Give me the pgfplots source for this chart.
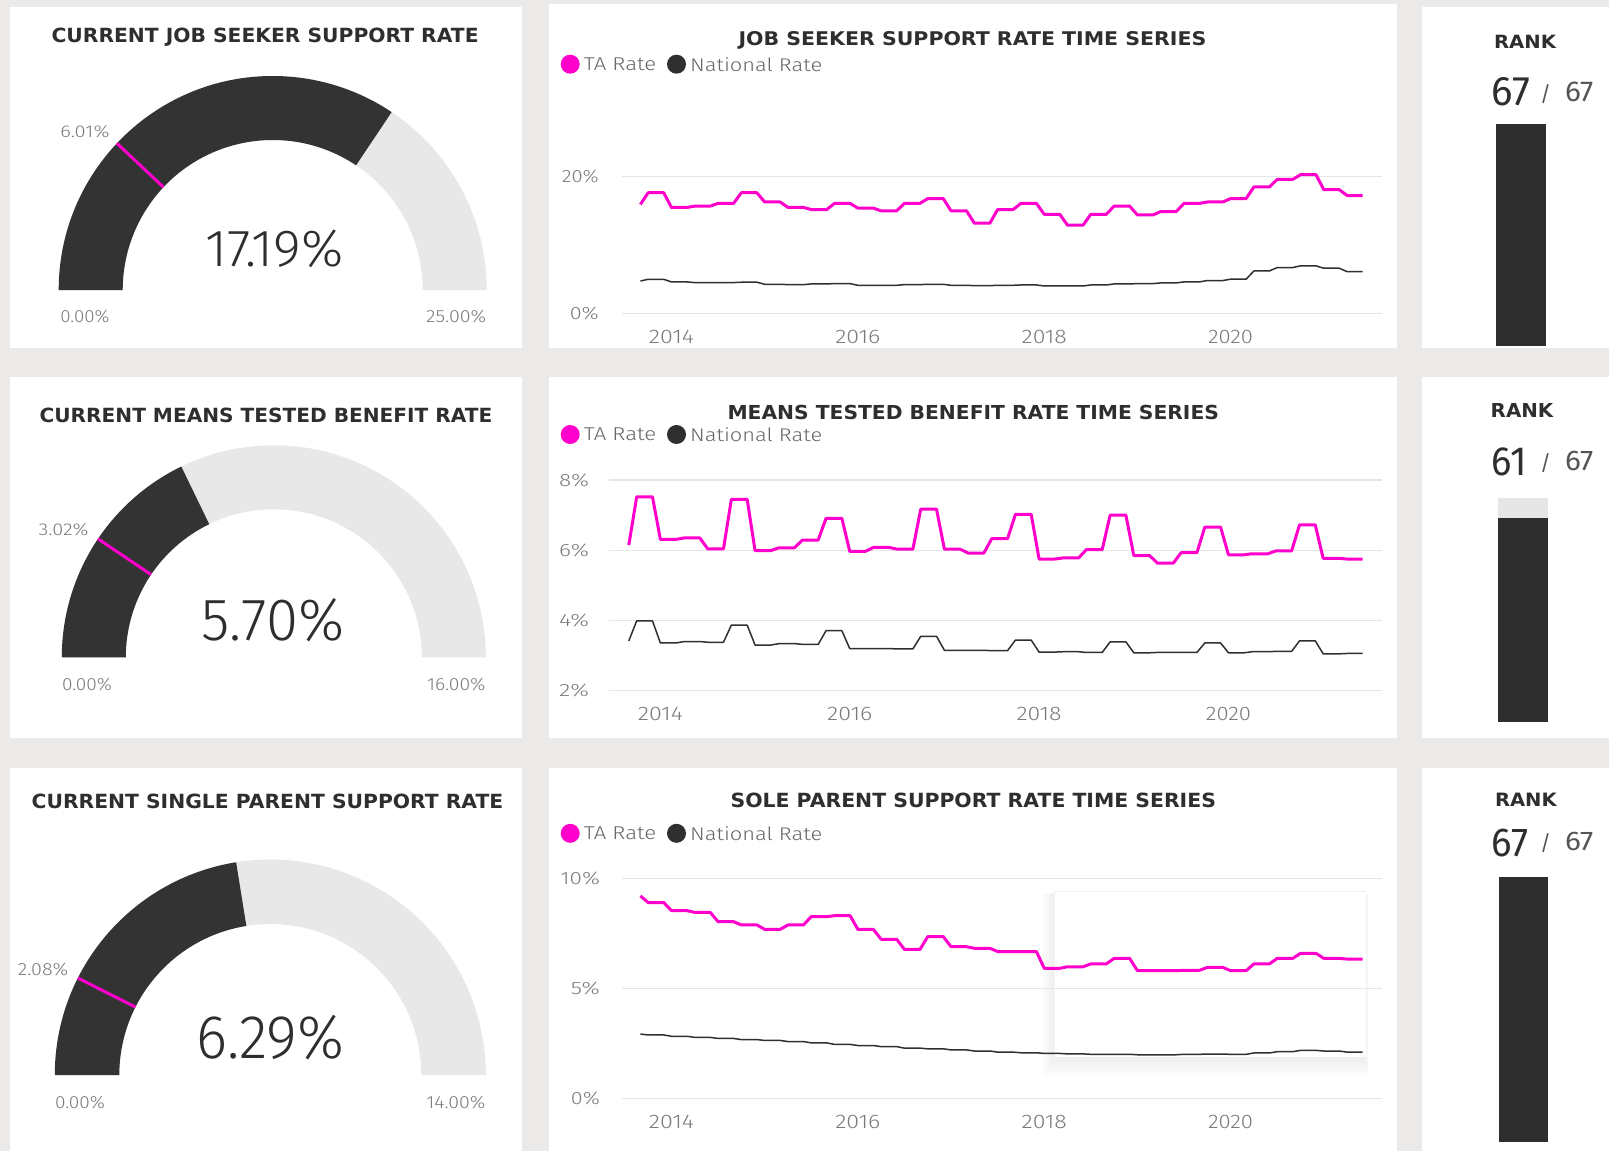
\documentclass[border=0pt]{standalone}
\usepackage{pgfplots}
\pgfplotsset{compat=1.18}
\usepackage{pgfplotstable}
\usepackage{graphicx}
\usepackage{fontspec}
\setmainfont{DejaVu Sans}
\newfontfamily\dfont{Fira Sans Light}
\newfontfamily\rfont{Fira Sans}
\definecolor{bgc}{HTML}{EBEAE9}
\definecolor{gdark}{HTML}{333333}
\definecolor{glight}{HTML}{E8E8E8}
\definecolor{mag}{HTML}{FF00CC}
\definecolor{natc}{HTML}{2F2F2F}
\definecolor{ttl}{HTML}{2E2E2E}
\definecolor{lbl}{HTML}{7A7A7A}
\definecolor{tkc}{HTML}{7A7A7A}
\definecolor{lgt}{HTML}{666666}
\definecolor{gridc}{HTML}{E6E6E6}
\definecolor{sub}{HTML}{555555}
\definecolor{rdark}{HTML}{2E2E2E}
\definecolor{rlight}{HTML}{E6E6E6}
\newdimen\pxu \pxu=0.5pt
\newcommand\fit[3]{\resizebox{#1\pxu}{#2\pxu}{#3}}
\newcommand\rkslash{{\rfont\fontsize{10.5pt}{11pt}\selectfont /}}

% ---------- data: month index 0 = Sep 2013, 4 = Jan 2014 ----------
\pgfplotstableread[row sep=\\]{
m ta nat\\
0 15.95 4.73\\
1 17.66 4.98\\ 2 17.66 4.98\\ 3 17.66 4.98\\
4 15.50 4.59\\ 5 15.50 4.59\\ 6 15.50 4.59\\
7 15.70 4.50\\ 8 15.70 4.50\\ 9 15.70 4.50\\
10 16.10 4.50\\ 11 16.10 4.50\\ 12 16.10 4.50\\
13 17.66 4.55\\ 14 17.66 4.55\\ 15 17.66 4.55\\
16 16.30 4.25\\ 17 16.30 4.25\\ 18 16.30 4.25\\
19 15.50 4.20\\ 20 15.50 4.20\\ 21 15.50 4.20\\
22 15.20 4.30\\ 23 15.20 4.30\\ 24 15.20 4.30\\
25 16.10 4.35\\ 26 16.10 4.35\\ 27 16.10 4.35\\
28 15.40 4.10\\ 29 15.40 4.10\\ 30 15.40 4.10\\
31 15.00 4.10\\ 32 15.00 4.10\\ 33 15.00 4.10\\
34 16.10 4.20\\ 35 16.10 4.20\\ 36 16.10 4.20\\
37 16.80 4.25\\ 38 16.80 4.25\\ 39 16.80 4.25\\
40 15.00 4.10\\ 41 15.00 4.10\\ 42 15.00 4.10\\
43 13.20 4.05\\ 44 13.20 4.05\\ 45 13.20 4.05\\
46 15.20 4.10\\ 47 15.20 4.10\\ 48 15.20 4.10\\
49 16.10 4.15\\ 50 16.10 4.15\\ 51 16.10 4.15\\
52 14.50 4.00\\ 53 14.50 4.00\\ 54 14.50 4.00\\
55 12.90 4.00\\ 56 12.90 4.00\\ 57 12.90 4.00\\
58 14.50 4.15\\ 59 14.50 4.15\\ 60 14.50 4.15\\
61 15.70 4.30\\ 62 15.70 4.30\\ 63 15.70 4.30\\
64 14.40 4.35\\ 65 14.40 4.35\\ 66 14.40 4.35\\
67 14.90 4.45\\ 68 14.90 4.45\\ 69 14.90 4.45\\
70 16.10 4.60\\ 71 16.10 4.60\\ 72 16.10 4.60\\
73 16.30 4.80\\ 74 16.30 4.80\\ 75 16.30 4.80\\
76 16.80 5.00\\ 77 16.80 5.00\\ 78 16.80 5.00\\
79 18.50 6.20\\ 80 18.50 6.20\\ 81 18.50 6.20\\
82 19.60 6.70\\ 83 19.60 6.70\\ 84 19.60 6.70\\
85 20.30 6.95\\ 86 20.30 6.95\\ 87 20.30 6.95\\
88 18.10 6.60\\ 89 18.10 6.60\\ 90 18.10 6.60\\
91 17.25 6.10\\ 92 17.25 6.10\\ 93 17.25 6.10\\
}\tabJS

\pgfplotstableread[row sep=\\]{
m ta nat\\
0 6.15 3.42\\
1 7.52 3.99\\ 2 7.52 3.99\\ 3 7.52 3.99\\
4 6.31 3.36\\ 5 6.31 3.36\\ 6 6.31 3.36\\
7 6.35 3.40\\ 8 6.35 3.40\\ 9 6.35 3.40\\
10 6.04 3.38\\ 11 6.04 3.38\\ 12 6.04 3.38\\
13 7.45 3.87\\ 14 7.45 3.87\\ 15 7.45 3.87\\
16 5.99 3.30\\ 17 5.99 3.30\\ 18 5.99 3.30\\
19 6.07 3.34\\ 20 6.07 3.34\\ 21 6.07 3.34\\
22 6.29 3.32\\ 23 6.29 3.32\\ 24 6.29 3.32\\
25 6.91 3.71\\ 26 6.91 3.71\\ 27 6.91 3.71\\
28 5.97 3.20\\ 29 5.97 3.20\\ 30 5.97 3.20\\
31 6.08 3.20\\ 32 6.08 3.20\\ 33 6.08 3.20\\
34 6.03 3.19\\ 35 6.03 3.19\\ 36 6.03 3.19\\
37 7.17 3.55\\ 38 7.17 3.55\\ 39 7.17 3.55\\
40 6.03 3.15\\ 41 6.03 3.15\\ 42 6.03 3.15\\
43 5.92 3.15\\ 44 5.92 3.15\\ 45 5.92 3.15\\
46 6.33 3.14\\ 47 6.33 3.14\\ 48 6.33 3.14\\
49 7.02 3.44\\ 50 7.02 3.44\\ 51 7.02 3.44\\
52 5.75 3.10\\ 53 5.75 3.10\\ 54 5.75 3.10\\
55 5.78 3.11\\ 56 5.78 3.11\\ 57 5.78 3.11\\
58 6.02 3.09\\ 59 6.02 3.09\\ 60 6.02 3.09\\
61 7.00 3.39\\ 62 7.00 3.39\\ 63 7.00 3.39\\
64 5.85 3.08\\ 65 5.85 3.08\\ 66 5.85 3.08\\
67 5.63 3.09\\ 68 5.63 3.09\\ 69 5.63 3.09\\
70 5.93 3.09\\ 71 5.93 3.09\\ 72 5.93 3.09\\
73 6.66 3.36\\ 74 6.66 3.36\\ 75 6.66 3.36\\
76 5.87 3.08\\ 77 5.87 3.08\\ 78 5.87 3.08\\
79 5.90 3.11\\ 80 5.90 3.11\\ 81 5.90 3.11\\
82 5.98 3.12\\ 83 5.98 3.12\\ 84 5.98 3.12\\
85 6.72 3.42\\ 86 6.72 3.42\\ 87 6.72 3.42\\
88 5.77 3.05\\ 89 5.77 3.05\\ 90 5.77 3.05\\
91 5.75 3.06\\ 92 5.75 3.06\\ 93 5.75 3.06\\
}\tabMT

\pgfplotstableread[row sep=\\]{
m ta nat\\
0 9.20 2.92\\
1 8.90 2.88\\ 2 8.90 2.88\\ 3 8.90 2.88\\
4 8.53 2.82\\ 5 8.53 2.82\\ 6 8.53 2.82\\
7 8.45 2.77\\ 8 8.45 2.77\\ 9 8.45 2.77\\
10 8.03 2.72\\ 11 8.03 2.72\\ 12 8.03 2.72\\
13 7.88 2.67\\ 14 7.88 2.67\\ 15 7.88 2.67\\
16 7.68 2.63\\ 17 7.68 2.63\\ 18 7.68 2.63\\
19 7.88 2.58\\ 20 7.88 2.58\\ 21 7.88 2.58\\
22 8.26 2.52\\ 23 8.26 2.52\\ 24 8.26 2.52\\
25 8.30 2.45\\ 26 8.30 2.45\\ 27 8.30 2.45\\
28 7.68 2.40\\ 29 7.68 2.40\\ 30 7.68 2.40\\
31 7.23 2.35\\ 32 7.23 2.35\\ 33 7.23 2.35\\
34 6.77 2.28\\ 35 6.77 2.28\\ 36 6.77 2.28\\
37 7.35 2.25\\ 38 7.35 2.25\\ 39 7.35 2.25\\
40 6.89 2.20\\ 41 6.89 2.20\\ 42 6.89 2.20\\
43 6.82 2.15\\ 44 6.82 2.15\\ 45 6.82 2.15\\
46 6.67 2.10\\ 47 6.67 2.10\\ 48 6.67 2.10\\
49 6.67 2.07\\ 50 6.67 2.07\\ 51 6.67 2.07\\
52 5.91 2.04\\ 53 5.91 2.04\\ 54 5.91 2.04\\
55 5.98 2.02\\ 56 5.98 2.02\\ 57 5.98 2.02\\
58 6.11 2.00\\ 59 6.11 2.00\\ 60 6.11 2.00\\
61 6.36 2.00\\ 62 6.36 2.00\\ 63 6.36 2.00\\
64 5.80 1.98\\ 65 5.80 1.98\\ 66 5.80 1.98\\
67 5.80 1.98\\ 68 5.80 1.98\\ 69 5.80 1.98\\
70 5.82 2.00\\ 71 5.82 2.00\\ 72 5.82 2.00\\
73 5.95 2.01\\ 74 5.95 2.01\\ 75 5.95 2.01\\
76 5.80 2.00\\ 77 5.80 2.00\\ 78 5.80 2.00\\
79 6.11 2.06\\ 80 6.11 2.06\\ 81 6.11 2.06\\
82 6.36 2.12\\ 83 6.36 2.12\\ 84 6.36 2.12\\
85 6.59 2.18\\ 86 6.59 2.18\\ 87 6.59 2.18\\
88 6.36 2.15\\ 89 6.36 2.15\\ 90 6.36 2.15\\
91 6.33 2.10\\ 92 6.33 2.10\\ 93 6.33 2.10\\
}\tabSP

% gauge: #1 anchor coord, #2 outer R (px), #3 inner r (px), #4 value, #5 max, #6 target
\newcommand\gauge[6]{%
\pgfmathsetmacro\gV{180-180*#4/#5}%
\pgfmathsetmacro\gT{180-180*#6/#5}%
\pgfmathsetmacro\gRo{#2/2}%
\pgfmathsetmacro\gRi{#3/2}%
\begin{axis}[at={(#1)}, anchor=south west, x=0.5pt, y=0.5pt, hide axis,
  xmin=-220, xmax=220, ymin=0, ymax=220, clip=false]
\fill[glight] (axis cs:-#2,0) arc[start angle=180,end angle=0,radius=\gRo pt]
   -- (axis cs:#3,0) arc[start angle=0,end angle=180,radius=\gRi pt] -- cycle;
\fill[gdark] (axis cs:-#2,0) arc[start angle=180,end angle=\gV,radius=\gRo pt]
   -- (axis cs:{#3*cos(\gV)},{#3*sin(\gV)}) arc[start angle=\gV,end angle=180,radius=\gRi pt] -- cycle;
\draw[mag, line width=1.5pt] (axis cs:{#3*cos(\gT)},{#3*sin(\gT)}) -- (axis cs:{#2*cos(\gT)},{#2*sin(\gT)});
\end{axis}}

\pgfplotsset{
  tsaxis/.style={anchor=south west, scale only axis,
    axis line style={draw=none}, major tick length=0pt, tick style={draw=none},
    ymajorgrids, grid style={gridc, line width=0.6pt},
    xtick={4,28,52,76},
    xticklabels={\fit{45}{13.3}{\dfont 2014},\fit{45}{13.3}{\dfont 2016},\fit{45}{13.3}{\dfont 2018},\fit{45}{13.3}{\dfont 2020}},
    tick label style={text=tkc},
    xticklabel style={anchor=base, inner sep=0pt},
    yticklabel style={anchor=east, inner sep=0pt},
    legend columns=-1,
    legend style={anchor=west, draw=none, fill=none, inner sep=0pt, outer sep=0pt,
      text=lgt, nodes={inner sep=0pt, outer sep=0pt, text depth=0pt},
      /tikz/every even column/.style={column sep=0pt}},
    legend image code/.code={\path[draw=none,fill=none] (-5.35pt,0pt) rectangle (11.6pt,0pt); \fill[draw=none] (4.75pt,0pt) circle[radius=4.75pt];},
  },
  taplot/.style={mag, line width=1.5pt, line join=round},
  natplot/.style={natc, line width=0.75pt, line join=round},
}

\begin{document}
\begin{tikzpicture}[x=0.5pt,y=-0.5pt]
% ---------- background and panels ----------
\fill[bgc] (0,0) rectangle (1609,1151);
\fill[white] (10,7) rectangle (522,348);
\fill[white] (549,4) rectangle (1397,348);
\fill[white] (1422,7) rectangle (1609,348);
\fill[white] (10,377) rectangle (522,738);
\fill[white] (549,377) rectangle (1397,738);
\fill[white] (1422,377) rectangle (1609,738);
\fill[white] (10,768) rectangle (522,1151);
\fill[white] (549,768) rectangle (1397,1151);
\fill[white] (1422,768) rectangle (1609,1151);

% shadowed box in third time series
\foreach \k in {1,...,8} {\fill[black, opacity=0.009] (1054.5-1.6*\k,891.7+0.3*\k) rectangle (1365.5+0.4*\k,1056.7+2.6*\k);}
\fill[white] (1054.5,891.7) rectangle (1365.5,1056.7);
\draw[black!5, line width=0.4pt] (1054.5,1056.7) -- (1054.5,891.7) -- (1365.5,891.7);

% ---------- gauges ----------
\coordinate (g1) at (52.7,290);
\coordinate (g2) at (53.8,657.3);
\coordinate (g3) at (50.3,1075);
\gauge{g1}{214}{150}{17.19}{25}{6.01}
\gauge{g2}{212}{148}{5.70}{16}{3.02}
\gauge{g3}{215.5}{151}{6.29}{14}{2.08}

\begin{scope}[every node/.style={inner sep=0pt, outer sep=0pt}]
\node[anchor=base, text=ttl] at (265.1,42.7) {\fit{427}{14.5}{\bfseries CURRENT JOB SEEKER SUPPORT RATE}};
\node[anchor=base, text=ttl] at (266,422.7) {\fit{452.8}{14.5}{\bfseries CURRENT MEANS TESTED BENEFIT RATE}};
\node[anchor=base, text=ttl] at (267.5,808.5) {\fit{471.7}{14.5}{\bfseries CURRENT SINGLE PARENT SUPPORT RATE}};

\node[anchor=base west, text=lbl] at (60.3,137.3) {\fit{49.2}{12}{\dfont 6.01\%}};
\node[anchor=base west, text=lbl] at (60.3,322.7) {\fit{49.2}{12.4}{\dfont 0.00\%}};
\node[anchor=base east, text=lbl] at (486.2,322.7) {\fit{60}{12.4}{\dfont 25.00\%}};
\node[anchor=base west, text=ttl] at (205.6,266.7) {\fit{137.7}{36.7}{\dfont 17.19\%}};

\node[anchor=base west, text=lbl] at (38.6,535.7) {\fit{49.9}{12}{\dfont 3.02\%}};
\node[anchor=base west, text=lbl] at (62,690.7) {\fit{50}{12.4}{\dfont 0.00\%}};
\node[anchor=base east, text=lbl] at (485.5,690.7) {\fit{58.5}{12.4}{\dfont 16.00\%}};
\node[anchor=base west, text=ttl] at (201.4,640) {\fit{143}{42}{\dfont 5.70\%}};

\node[anchor=base west, text=lbl] at (17.9,975) {\fit{50.3}{12.4}{\dfont 2.08\%}};
\node[anchor=base west, text=lbl] at (55,1108.3) {\fit{50}{12.4}{\dfont 0.00\%}};
\node[anchor=base east, text=lbl] at (485.5,1108.3) {\fit{59.2}{12.4}{\dfont 14.00\%}};
\node[anchor=base west, text=ttl] at (196.3,1058.3) {\fit{148.1}{43.3}{\dfont 6.29\%}};

% time series titles
\node[anchor=base, text=ttl] at (972.5,45.7) {\fit{467.8}{14}{\bfseries JOB SEEKER SUPPORT RATE TIME SERIES}};
\node[anchor=base, text=ttl] at (973.25,419.3) {\fit{491.5}{14.3}{\bfseries MEANS TESTED BENEFIT RATE TIME SERIES}};
\node[anchor=base, text=ttl] at (973.3,807.6) {\fit{485.4}{14.5}{\bfseries SOLE PARENT SUPPORT RATE TIME SERIES}};

% rank texts
\node[anchor=base west, text=ttl] at (1494,48.3) {\fit{62}{13.3}{\bfseries RANK}};
\node[anchor=base west, text=ttl] at (1491.7,105) {\fit{38.3}{28}{\rfont 67}};
\node[anchor=base west, text=sub] at (1540,101.7) {\rkslash};
\node[anchor=base west, text=sub] at (1565,101.7) {\fit{28.3}{19.5}{\rfont 67}};

\node[anchor=base west, text=ttl] at (1490.7,417.3) {\fit{62.6}{14}{\bfseries RANK}};
\node[anchor=base west, text=ttl] at (1491.7,475) {\fit{35}{27.7}{\rfont 61}};
\node[anchor=base west, text=sub] at (1540,470) {\rkslash};
\node[anchor=base west, text=sub] at (1565,470) {\fit{28.3}{19.3}{\rfont 67}};

\node[anchor=base west, text=ttl] at (1495,806.7) {\fit{61.7}{13.4}{\bfseries RANK}};
\node[anchor=base west, text=ttl] at (1491.7,856.7) {\fit{36.6}{27.4}{\rfont 67}};
\node[anchor=base west, text=sub] at (1540,850) {\rkslash};
\node[anchor=base west, text=sub] at (1565,850) {\fit{28.3}{18.3}{\rfont 67}};
\end{scope}

% ---------- time series ----------
\coordinate (ts1) at (622,313.3);
\coordinate (ts2) at (608.6,690.7);
\coordinate (ts3) at (622,1098.3);

\begin{axis}[tsaxis, at={(ts1)}, width=380pt, height=71.7pt,
  xmin=-2.37, xmax=95.5, ymin=0, ymax=21,
  ytick={0,20}, yticklabels={\fit{29}{12.5}{\dfont 0\%},\fit{37}{12.5}{\dfont 20\%}},
  xticklabel style={yshift=-15pt}, yticklabel style={xshift=-11.4pt},
  legend style={at={(axis description cs:-0.09474,1.7371)}}]
\addplot[taplot] table[x=m, y=ta] {\tabJS};
\addlegendentry{\fit{72.4}{12.7}{\dfont TA Rate}}
\addplot[natplot] table[x=m, y=nat] {\tabJS};
\addlegendentry{\fit{132}{13.8}{\dfont National Rate}}
\end{axis}

\begin{axis}[tsaxis, at={(ts2)}, width=386.7pt, height=105.35pt,
  xmin=-2.56, xmax=95.46, ymin=2, ymax=8,
  ytick={2,4,6,8}, yticklabels={\fit{30}{12.5}{\dfont 2\%},\fit{30}{12.5}{\dfont 4\%},\fit{30}{12.5}{\dfont 6\%},\fit{30}{12.5}{\dfont 8\%}},
  xticklabel style={yshift=-14.65pt}, yticklabel style={xshift=-9.6pt},
  legend style={at={(axis description cs:-0.07577,1.2160)}}]
\addplot[taplot] table[x=m, y=ta] {\tabMT};
\addlegendentry{\fit{72.4}{12.7}{\dfont TA Rate}}
\addplot[natplot] table[x=m, y=nat] {\tabMT};
\addlegendentry{\fit{132}{13.8}{\dfont National Rate}}
\end{axis}

\begin{axis}[tsaxis, at={(ts3)}, width=380pt, height=110pt,
  xmin=-2.37, xmax=95.5, ymin=0, ymax=10,
  ytick={0,5,10}, yticklabels={\fit{29}{12.5}{\dfont 0\%},\fit{29}{12.5}{\dfont 5\%},\fit{39.5}{12.5}{\dfont 10\%}},
  xticklabel style={yshift=-15pt}, yticklabel style={xshift=-10.85pt},
  legend style={at={(axis description cs:-0.09474,1.2045)}}]
\addplot[taplot] table[x=m, y=ta] {\tabSP};
\addlegendentry{\fit{72.4}{12.7}{\dfont TA Rate}}
\addplot[natplot] table[x=m, y=nat] {\tabSP};
\addlegendentry{\fit{132}{13.8}{\dfont National Rate}}
\end{axis}

% ---------- rank bars ----------
\coordinate (rb1) at (1496,346);
\coordinate (rb2) at (1498,722);
\coordinate (rb3) at (1499,1142);
\begin{axis}[at={(rb1)}, anchor=south west, scale only axis, width=25pt, height=111pt,
  hide axis, xmin=-0.5, xmax=0.5, ymin=0, ymax=67, ybar stacked, bar width=25pt]
\addplot[fill=rdark, draw=none] coordinates {(0,67)};
\addplot[fill=rlight, draw=none] coordinates {(0,0)};
\end{axis}
\begin{axis}[at={(rb2)}, anchor=south west, scale only axis, width=25pt, height=112pt,
  hide axis, xmin=-0.5, xmax=0.5, ymin=0, ymax=67, ybar stacked, bar width=25pt]
\addplot[fill=rdark, draw=none] coordinates {(0,61)};
\addplot[fill=rlight, draw=none] coordinates {(0,6)};
\end{axis}
\begin{axis}[at={(rb3)}, anchor=south west, scale only axis, width=24.5pt, height=132.5pt,
  hide axis, xmin=-0.5, xmax=0.5, ymin=0, ymax=67, ybar stacked, bar width=24.5pt]
\addplot[fill=rdark, draw=none] coordinates {(0,67)};
\addplot[fill=rlight, draw=none] coordinates {(0,0)};
\end{axis}

\pgfresetboundingbox
\useasboundingbox (0,0) rectangle (1609,1151);
\end{tikzpicture}
\end{document}
